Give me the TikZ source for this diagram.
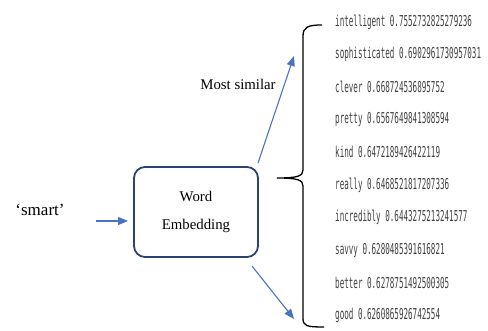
\documentclass[tikz,border=0pt]{standalone}
\usepackage{fontspec}
\setmainfont{Liberation Serif}
\newfontfamily\listfont[FakeStretch=0.505]{DejaVu Sans Mono}
\usetikzlibrary{arrows.meta}
\definecolor{arrowblue}{HTML}{4A72C4}
\definecolor{boxnavy}{HTML}{2E4272}
\definecolor{listgray}{HTML}{404040}
\tikzset{
  serif/.style={font=\fontsize{14.8}{28}\selectfont, inner sep=0pt},
  embbox/.style={draw=boxnavy, line width=1.8pt, rounded corners=11pt, minimum width=124pt, minimum height=90pt, align=center, font=\fontsize{14.8}{28}\selectfont},
  blarrow/.style={draw=arrowblue, line width=1.1pt, -{Triangle[length=10pt,width=8pt]}},
  listitem/.style={font=\listfont\fontsize{15}{16}\selectfont, text=listgray, anchor=west, inner sep=0pt},
  brace/.style={draw=black, line width=1.3pt}
}
\begin{document}
\begin{tikzpicture}[x=1pt,y=-1pt]
\useasboundingbox (0,0) rectangle (488,331);
\node[serif, font=\fontsize{17}{18}\selectfont] (smart) at (40,210) {`smart'};
\node[embbox] (emb) at (196,212) {Word\\Embedding};
\node[serif] (most) at (238,84) {Most similar};
\coordinate (a1s) at (96,221);
\coordinate (a1e) at (128,221);
\draw[blarrow] (a1s) -- (a1e);
\coordinate (upS) at (258,163);
\coordinate (upE) at (294,56);
\draw[blarrow] (upS) -- (upE);
\coordinate (loS) at (252,266);
\coordinate (loE) at (294,319);
\draw[blarrow] (loS) -- (loE);
% brace
\coordinate (bTop) at (322,25);
\coordinate (bMid) at (277,178);
\coordinate (bBot) at (324,327);
\draw[brace] (bTop) .. controls (308,25) and (303,27) .. (303,36) -- (303,170)
  .. controls (303,176) and (298,178) .. (bMid)
  .. controls (298,178) and (303,180) .. (303,186) -- (303,318)
  .. controls (303,326) and (306,327) .. (bBot);
% list
\node[listitem] (w1) at (335,22) {intelligent 0.7552732825279236};
\node[listitem] (w2) at (335,54.6) {sophisticated 0.6902961730957031};
\node[listitem] (w3) at (335,87.2) {clever 0.668724536895752};
\node[listitem] (w4) at (335,119.8) {pretty 0.6567649841308594};
\node[listitem] (w5) at (335,152.4) {kind 0.6472189426422119};
\node[listitem] (w6) at (335,185) {really 0.6468521817207336};
\node[listitem] (w7) at (335,217.6) {incredibly 0.6443275213241577};
\node[listitem] (w8) at (335,250.2) {savvy 0.6280485391616821};
\node[listitem] (w9) at (335,282.8) {better 0.6278751492500305};
\node[listitem] (w10) at (335,315.4) {good 0.6260865926742554};
\end{tikzpicture}
\end{document}
